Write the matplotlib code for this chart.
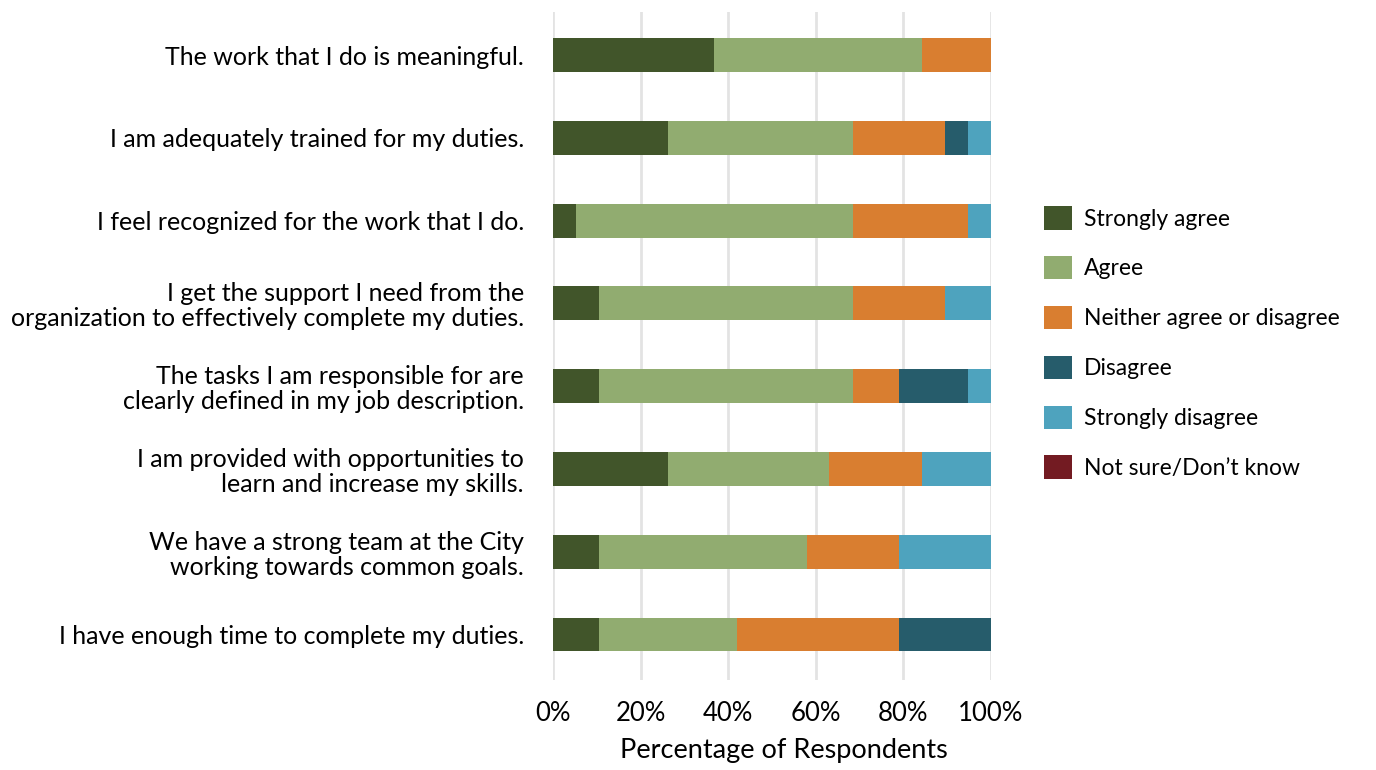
import numpy as np
import matplotlib.pyplot as plt
from matplotlib.patches import Patch

plt.rcParams['font.family'] = ['Lato', 'DejaVu Sans']

questions = [
    'The work that I do is meaningful.',
    'I am adequately trained for my duties.',
    'I feel recognized for the work that I do.',
    'I get the support I need from the\norganization to effectively complete my duties.',
    'The tasks I am responsible for are\nclearly defined in my job description.',
    'I am provided with opportunities to\nlearn and increase my skills.',
    'We have a strong team at the City\nworking towards common goals.',
    'I have enough time to complete my duties.',
]

responses = ['Strongly agree', 'Agree', 'Neither agree or disagree',
             'Disagree', 'Strongly disagree', 'Not sure/Don\u2019t know']
colors = ['#41552a', '#91ac70', '#d97e30', '#265c6b', '#4ea3be', '#731b22']

# percent of respondents, one list per answer, in question order
strongly_agree = [36.8, 26.3, 5.3, 10.5, 10.5, 26.3, 10.5, 10.5]
agree = [47.4, 42.1, 63.2, 57.9, 57.9, 36.8, 47.4, 31.6]
neither = [15.8, 21.1, 26.3, 21.1, 10.5, 21.1, 21.1, 36.8]
disagree = [0, 5.3, 0, 0, 15.8, 0, 0, 21.1]
strongly_disagree = [0, 5.3, 5.3, 10.5, 5.3, 15.8, 21.1, 0]
not_sure = [0, 0, 0, 0, 0, 0, 0, 0]

series = [strongly_agree, agree, neither, disagree, strongly_disagree, not_sure]

fig = plt.figure(figsize=(13.76, 7.7), dpi=100)
ax = fig.add_axes([553 / 1376, 1 - 680 / 770, 438 / 1376, 668 / 770])

y = np.arange(len(questions))
left = np.zeros(len(questions))
for vals, col in zip(series, colors):
    vals = np.array(vals, dtype=float)
    ax.barh(y, vals, left=left, height=0.41, color=col, zorder=3)
    left += vals

ax.set_xlim(0, 100)
ax.set_ylim(len(questions) - 0.45, -0.52)
ax.set_xticks(np.arange(0, 101, 20))
ax.set_xticklabels([f'{v}%' for v in range(0, 101, 20)], fontsize=18.5)
ax.set_yticks(y)
ax.set_yticklabels(questions, fontsize=18, linespacing=1.1)
ax.tick_params(axis='both', length=0)
ax.tick_params(axis='y', pad=21)
ax.tick_params(axis='x', pad=15)
ax.grid(axis='x', color='#e3e3e3', linewidth=2, zorder=0)
for s in ax.spines.values():
    s.set_visible(False)

ax.set_xlabel('Percentage of Respondents', fontsize=19.5, labelpad=9, x=0.526)

handles = [Patch(facecolor=c, edgecolor='none') for c in colors]
fig.legend(handles, responses, loc='upper left', bbox_to_anchor=(1035 / 1376, 1 - 197 / 770),
           frameon=False, fontsize=16.5, handlelength=1.2, handleheight=1.2,
           labelspacing=1.15, handletextpad=0.55, borderaxespad=0)

fig.savefig('out.png', dpi=100)
